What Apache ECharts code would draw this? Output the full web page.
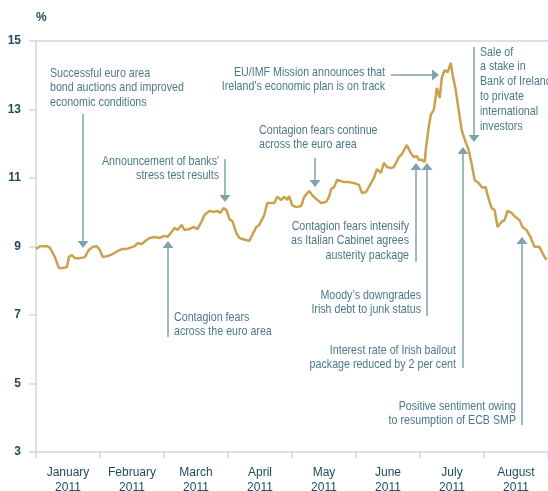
<!DOCTYPE html>
<html>
<head>
<meta charset="utf-8">
<script src="https://cdn.jsdelivr.net/npm/echarts@6/dist/echarts.min.js"></script>
<style>
  html, body { margin: 0; padding: 0; background: #fff; }
  #grafico { width: 548px; height: 491px; }
</style>
</head>
<body>
<div id="grafico"></div>
<script>
// Meses del eje x
var months = ["January", "February", "March", "April", "May", "June", "July", "August"];
var year = "2011";

// Posición en meses (0 = inicio de enero) y rendimiento en %
var monthPos = [
  0, 0.062, 0.171, 0.218, 0.296, 0.358, 0.421, 0.483, 0.514, 0.561, 0.607, 0.685, 0.763, 0.826, 0.888, 0.950,
  0.997, 1.044, 1.121, 1.199, 1.277, 1.355, 1.417, 1.464, 1.542, 1.589, 1.651, 1.729, 1.776, 1.854, 1.931,
  2.009, 2.056, 2.118, 2.165, 2.212, 2.274, 2.321, 2.399, 2.461, 2.523, 2.586, 2.632, 2.710, 2.788, 2.835, 2.882, 2.928, 2.975,
  3.022, 3.069, 3.131, 3.178, 3.224, 3.333, 3.380, 3.442, 3.489, 3.567, 3.614, 3.723, 3.769, 3.832, 3.879, 3.925, 3.956,
  4.003, 4.065, 4.143, 4.190, 4.268, 4.315, 4.377, 4.455, 4.533, 4.579, 4.611, 4.657, 4.704, 4.766, 4.813, 4.891, 4.969,
  5.047, 5.093, 5.156, 5.234, 5.280, 5.327, 5.389, 5.436, 5.483, 5.545, 5.592, 5.670, 5.717, 5.794, 5.857, 5.903, 5.950, 5.981,
  6.028, 6.075, 6.090, 6.137, 6.168, 6.215, 6.246, 6.262, 6.308, 6.340, 6.386, 6.433, 6.480, 6.511, 6.558, 6.604, 6.651, 6.713, 6.760, 6.807, 6.854, 6.916, 6.978,
  7.025, 7.056, 7.118, 7.165, 7.212, 7.274, 7.321, 7.368, 7.430, 7.492, 7.555, 7.601, 7.664, 7.726, 7.788, 7.866, 7.913, 7.975
];
var yieldPct = [
  8.93, 9.01, 9.01, 8.96, 8.69, 8.37, 8.37, 8.40, 8.69, 8.75, 8.66, 8.66, 8.69, 8.90, 8.99, 9.01,
  8.90, 8.69, 8.72, 8.78, 8.87, 8.93, 8.93, 8.96, 9.01, 9.10, 9.07, 9.19, 9.25, 9.28, 9.25,
  9.31, 9.28, 9.42, 9.54, 9.48, 9.63, 9.48, 9.51, 9.57, 9.51, 9.72, 9.92, 10.04, 10.01, 10.04, 9.98, 10.12, 10.07,
  9.80, 9.74, 9.39, 9.25, 9.22, 9.16, 9.34, 9.57, 9.63, 9.92, 10.27, 10.27, 10.45, 10.36, 10.45, 10.36, 10.47,
  10.21, 10.15, 10.18, 10.45, 10.62, 10.50, 10.39, 10.27, 10.30, 10.45, 10.68, 10.74, 10.94, 10.91, 10.88, 10.88, 10.85,
  10.80, 10.56, 10.59, 10.85, 11.00, 11.26, 11.15, 11.44, 11.32, 11.29, 11.32, 11.61, 11.70, 11.96, 11.73, 11.61, 11.64, 11.53,
  11.53, 11.47, 11.82, 12.49, 12.84, 12.99, 13.37, 13.63, 13.34, 13.92, 14.15, 14.09, 14.36, 14.01, 13.57, 12.99, 12.40, 12.05, 11.82, 11.41, 10.94, 10.85, 10.71,
  10.74, 10.50, 10.12, 10.07, 9.57, 9.72, 9.77, 10.04, 9.98, 9.86, 9.77, 9.57, 9.48, 9.28, 8.99, 8.99, 8.81, 8.61
];

// Anotaciones: texto, posición del texto y flecha [x0, y0, x1 (punta), y1]
var notes = [
  { lines: ["Successful euro area", "bond auctions and improved", "economic conditions"], x: 50, y: 73, align: "left", arrow: [83, 114, 83, 248] },
  { lines: ["Announcement of banks'", "stress test results"], x: 219, y: 161, align: "right", arrow: [225, 159, 225, 202] },
  { lines: ["Contagion fears", "across the euro area"], x: 174, y: 317, align: "left", arrow: [168, 337, 168, 241] },
  { lines: ["EU/IMF Mission announces that", "Ireland's economic plan is on track"], x: 385, y: 72, align: "right", arrow: [391, 75, 439, 75] },
  { lines: ["Contagion fears continue", "across the euro area"], x: 259, y: 130, align: "left", arrow: [315, 158, 315, 187] },
  { lines: ["Contagion fears intensify", "as Italian Cabinet agrees", "austerity package"], x: 409, y: 226, align: "right", arrow: [416, 262, 416, 163] },
  { lines: ["Moody\u2019s downgrades", "Irish debt to junk status"], x: 421, y: 295, align: "right", arrow: [427, 316, 427, 163] },
  { lines: ["Interest rate of Irish bailout", "package reduced by 2 per cent"], x: 456, y: 350, align: "right", arrow: [463, 368, 463, 147] },
  { lines: ["Sale of", "a stake in", "Bank of Ireland", "to private", "international", "investors"], x: 480, y: 52, align: "left", arrow: [474, 47, 474, 142] },
  { lines: ["Positive sentiment owing", "to resumption of ECB SMP"], x: 516, y: 406, align: "right", arrow: [522, 425, 522, 237] }
];

var FONT = "'Liberation Sans', Arial, sans-serif";
var LINE_H = 14.8;
var NARROW = 0.82; // letra condensada
var TEXT_COLOR = "#4d7986";
var ARROW_COLOR = "#7fa2ac";
var AXIS_COLOR = "#cddadf";
var LABEL_COLOR = "#1f4b5a";

var seriesData = [];
for (var i = 0; i < monthPos.length; i++) {
  seriesData.push([monthPos[i], yieldPct[i]]);
}

var monthLabels = [];
for (var i = 0; i < months.length; i++) {
  monthLabels.push(months[i] + "\n" + year);
}

// Elementos gráficos de las anotaciones
var graphics = [];
for (var i = 0; i < notes.length; i++) {
  var n = notes[i];
  graphics.push({
    type: "text",
    x: n.x,
    y: n.y - LINE_H / 2,
    scaleX: NARROW,
    style: {
      text: n.lines.join("\n"),
      x: 0,
      y: 0,
      font: "13px " + FONT,
      fill: TEXT_COLOR,
      textAlign: n.align,
      textVerticalAlign: "top",
      lineHeight: LINE_H
    }
  });
  var a = n.arrow;
  var dx = a[2] - a[0], dy = a[3] - a[1];
  var len = Math.sqrt(dx * dx + dy * dy);
  var ux = dx / len, uy = dy / len;
  var headL = 7, headW = 5.5;
  var bx = a[2] - ux * headL, by = a[3] - uy * headL;
  graphics.push({
    type: "line",
    shape: { x1: a[0], y1: a[1], x2: bx, y2: by },
    style: { stroke: ARROW_COLOR, lineWidth: 1.5 }
  });
  graphics.push({
    type: "polygon",
    shape: { points: [[bx - uy * headW, by + ux * headW], [bx + uy * headW, by - ux * headW], [a[2], a[3]]] },
    style: { fill: ARROW_COLOR }
  });
}

var option = {
  animation: false,
  grid: { left: 36, right: 0, top: 41, bottom: 39, containLabel: false, outerBoundsMode: "none" },
  xAxis: [
    {
      type: "category",
      data: monthLabels,
      position: "bottom",
      axisLine: { lineStyle: { color: AXIS_COLOR, width: 1.5 } },
      axisTick: { show: true, length: 6, lineStyle: { color: AXIS_COLOR, width: 1.5 } },
      axisLabel: { interval: 0, color: LABEL_COLOR, fontFamily: FONT, fontSize: 12, lineHeight: 15, margin: 13 }
    },
    {
      type: "value",
      min: 0,
      max: 8,
      position: "top",
      axisLine: { show: true, onZero: false, lineStyle: { color: AXIS_COLOR, width: 1.5 } },
      axisTick: { show: false },
      axisLabel: { show: false },
      splitLine: { show: false }
    }
  ],
  yAxis: {
    type: "value",
    min: 3,
    max: 15,
    interval: 2,
    name: "%",
    nameGap: 17,
    nameTextStyle: { color: LABEL_COLOR, fontFamily: FONT, fontSize: 12, fontWeight: "bold", align: "left" },
    axisLine: { show: true, lineStyle: { color: AXIS_COLOR, width: 1.5 } },
    axisTick: { show: true, length: 7, lineStyle: { color: AXIS_COLOR, width: 1.5 } },
    axisLabel: { color: LABEL_COLOR, fontFamily: FONT, fontSize: 12, fontWeight: "bold", margin: 15 },
    splitLine: { show: false }
  },
  series: [
    {
      name: "Irish yield",
      type: "line",
      xAxisIndex: 1,
      data: seriesData,
      showSymbol: false,
      smooth: false,
      lineStyle: { color: "#c9a24c", width: 2.5 }
    }
  ],
  graphic: graphics
};

var chart = echarts.init(document.getElementById("grafico"));
chart.setOption(option);
</script>
</body>
</html>
